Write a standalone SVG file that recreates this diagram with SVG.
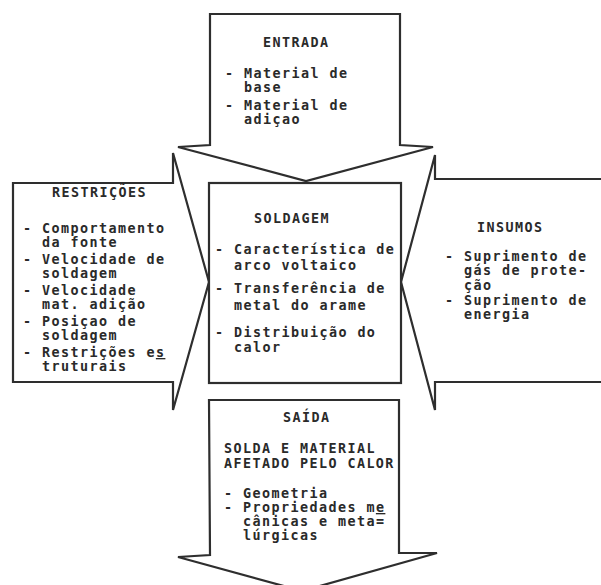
<svg xmlns="http://www.w3.org/2000/svg" width="601" height="585" viewBox="0 0 601 585">
  <style>
    .shape { fill: #ffffff; stroke: #2e2e2e; stroke-width: 2.2; stroke-linejoin: miter; }
    text { font-family: "DejaVu Sans Mono", "Liberation Mono", monospace; font-size: 13.4px; font-weight: bold; letter-spacing: 1.43px; fill: #2a2a2a; }
    .u { text-decoration: underline; }
  </style>
  <rect width="601" height="585" fill="#ffffff"/>

  <!-- arrow outlines -->
  <g id="connectors">
    <!-- input arrow pointing down into the process box -->
    <polygon class="shape" points="210,14 400,14 400,145 433,147 306,181 178,147 210,145"/>
    <!-- constraints arrow pointing right -->
    <polygon class="shape" points="13,183 173,183 173,153 209,282 173,410 173,382 13,382"/>
    <!-- supplies arrow pointing left (open on the page edge) -->
    <path class="shape" d="M601,179 L435,179 L435,155 L401,282 L435,410 L435,382 L601,382"/>
    <!-- output arrow pointing down -->
    <polygon class="shape" points="209,400 399,400 399,553 437,553 302,591 178,557 210,555"/>
  </g>

  <!-- central process box -->
  <g id="soldagem">
    <rect class="shape" x="209" y="183" width="192" height="200"/>
    <text x="254" y="223">SOLDAGEM</text>
    <text x="215" y="254">- Característica de</text>
    <text x="234" y="270">arco voltaico</text>
    <text x="215" y="293">- Transferência  de</text>
    <text x="234" y="310">metal do arame</text>
    <text x="215" y="337">- Distribuição do</text>
    <text x="234" y="352">calor</text>
  </g>

  <g id="entrada">
    <text x="263" y="47">ENTRADA</text>
    <text x="225" y="78">- Material de</text>
    <text x="244" y="92">base</text>
    <text x="225" y="110">- Material de</text>
    <text x="244" y="124">adiçao</text>
  </g>

  <g id="restricoes">
    <text x="52" y="197">RESTRIÇÕES</text>
    <text x="23" y="233">- Comportamento</text>
    <text x="42" y="246.5">da fonte</text>
    <text x="23" y="264">- Velocidade de</text>
    <text x="42" y="277.5">soldagem</text>
    <text x="23" y="295">- Velocidade</text>
    <text x="42" y="308.5">mat. adição</text>
    <text x="23" y="326">- Posiçao de</text>
    <text x="42" y="339.5">soldagem</text>
    <text x="23" y="357">- Restrições e<tspan class="u">s</tspan></text>
    <text x="42" y="370.5">truturais</text>
  </g>

  <g id="insumos">
    <text x="477" y="232">INSUMOS</text>
    <text x="445" y="261">- Suprimento de</text>
    <text x="464" y="275">gás de prote-</text>
    <text x="464" y="289.5">ção</text>
    <text x="445" y="305">- Suprimento de</text>
    <text x="464" y="319">energia</text>
  </g>

  <g id="saida">
    <text x="283" y="422">SAÍDA</text>
    <text x="224" y="453">SOLDA E MATERIAL</text>
    <text x="224" y="468">AFETADO PELO CALOR</text>
    <text x="224" y="498">- Geometria</text>
    <text x="224" y="512">- Propriedades m<tspan class="u">e</tspan></text>
    <text x="243" y="526">cânicas e meta=</text>
    <text x="243" y="540">lúrgicas</text>
  </g>
</svg>
